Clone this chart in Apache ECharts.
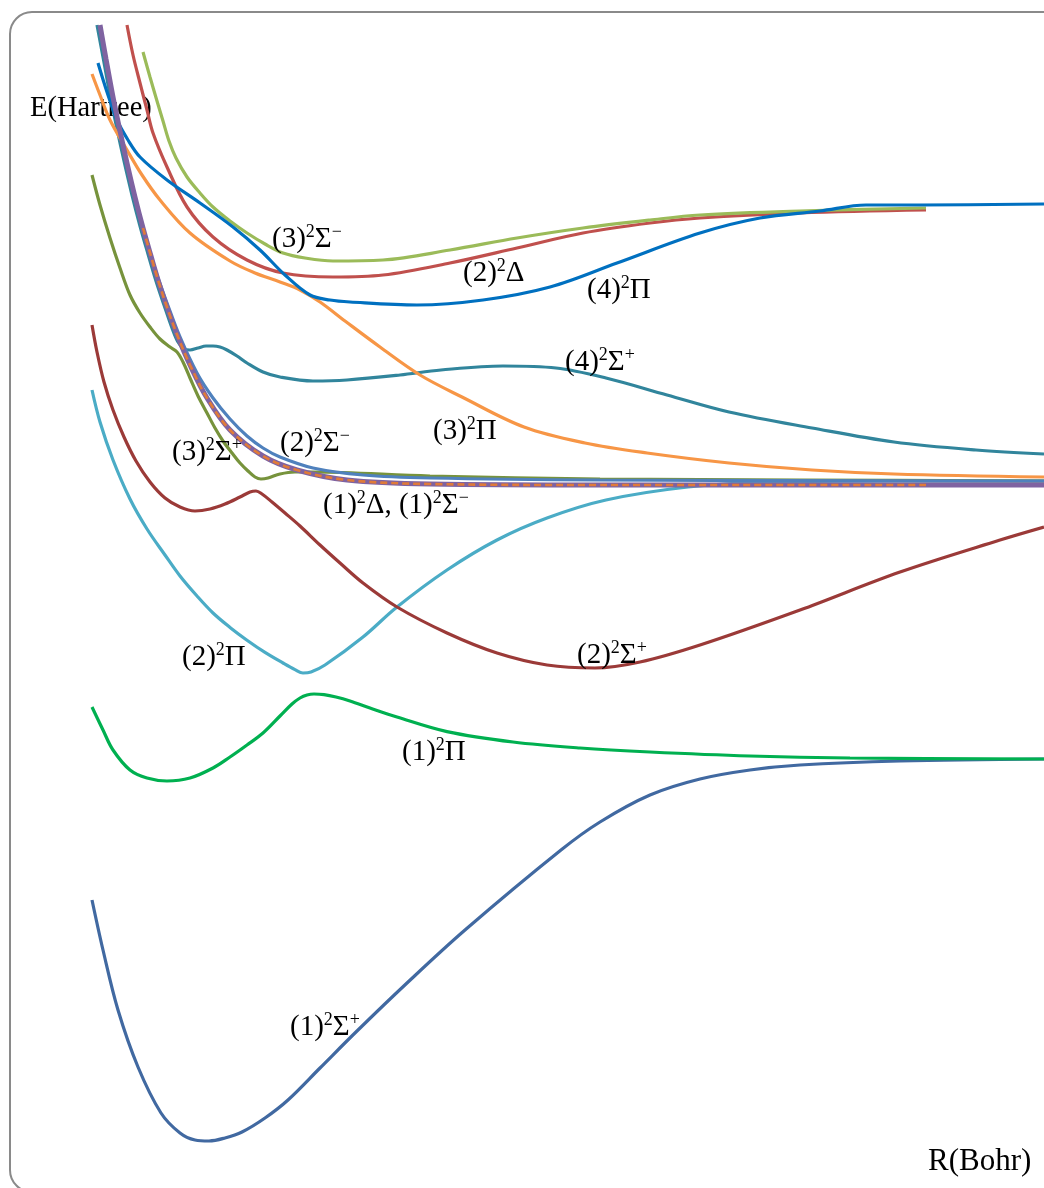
<!DOCTYPE html>
<html>
<head>
<meta charset="utf-8">
<script src="https://cdn.jsdelivr.net/npm/echarts@6/dist/echarts.min.js"></script>
<style>
  html, body { margin: 0; padding: 0; background: #fff; overflow: hidden; }
  #chart { width: 1044px; height: 1188px; }
</style>
</head>
<body>
<div id="chart"></div>
<script>
// Potential energy curves: internuclear distance R (bohr) vs energy E (hartree)

const sigma1Plus = [[1.84,-0.4500],[2.06,-0.4750],[2.36,-0.5050],[2.76,-0.5335],[3.22,-0.5565],[3.60,-0.5665],[3.90,-0.5700],[4.18,-0.5705],[4.50,-0.5690],[4.84,-0.5660],[5.30,-0.5590],[5.76,-0.5500],[6.40,-0.5340],[7.14,-0.5155],[8.14,-0.4915],[9.30,-0.4650],[11.22,-0.4250],[12.00,-0.4110],[13.00,-0.3975],[14.00,-0.3895],[15.00,-0.3850],[16.00,-0.3825],[18.00,-0.3805],[20.88,-0.3795]];

const pi1 = [[1.84,-0.3535],[2.06,-0.3650],[2.26,-0.3750],[2.60,-0.3850],[2.94,-0.3890],[3.34,-0.3905],[3.80,-0.3890],[4.26,-0.3840],[4.60,-0.3785],[4.94,-0.3725],[5.26,-0.3665],[5.60,-0.3580],[5.84,-0.3520],[6.00,-0.3490],[6.14,-0.3475],[6.28,-0.3470],[6.48,-0.3473],[6.72,-0.3485],[7.00,-0.3505],[7.40,-0.3540],[7.94,-0.3585],[8.94,-0.3658],[10.26,-0.3710],[11.60,-0.3740],[13.00,-0.3760],[15.00,-0.3780],[17.00,-0.3790],[20.88,-0.3795]];

const pi2 = [[1.84,-0.1950],[2.00,-0.2110],[2.26,-0.2300],[2.60,-0.2495],[2.94,-0.2645],[3.30,-0.2775],[3.60,-0.2880],[3.94,-0.2980],[4.26,-0.3065],[4.60,-0.3137],[4.94,-0.3201],[5.30,-0.3262],[5.66,-0.3315],[5.90,-0.3348],[6.06,-0.3365],[6.22,-0.3360],[6.50,-0.3325],[7.26,-0.3185],[7.94,-0.3035],[8.94,-0.2850],[9.94,-0.2700],[10.94,-0.2590],[12.12,-0.2500],[13.76,-0.2435],[15.40,-0.2410],[18.00,-0.2405],[20.88,-0.2405]];

const sigma2Plus = [[1.84,-0.1625],[1.94,-0.1760],[2.08,-0.1910],[2.26,-0.2050],[2.48,-0.2185],[2.72,-0.2305],[3.00,-0.2410],[3.30,-0.2490],[3.60,-0.2535],[3.90,-0.2555],[4.20,-0.2545],[4.50,-0.2520],[4.80,-0.2485],[5.00,-0.2460],[5.12,-0.2455],[5.24,-0.2470],[5.44,-0.2510],[5.70,-0.2565],[6.00,-0.2630],[6.40,-0.2725],[6.80,-0.2815],[7.26,-0.2915],[7.94,-0.3035],[8.94,-0.3165],[9.94,-0.3265],[10.94,-0.3325],[11.90,-0.3340],[12.80,-0.3310],[14.00,-0.3225],[16.00,-0.3050],[18.00,-0.2860],[20.00,-0.2700],[20.88,-0.2635]];

const sigma3Plus = [[1.84,-0.0875],[2.00,-0.1025],[2.20,-0.1190],[2.40,-0.1340],[2.60,-0.1475],[2.80,-0.1565],[3.00,-0.1635],[3.20,-0.1695],[3.40,-0.1735],[3.54,-0.1760],[3.66,-0.1810],[3.80,-0.1890],[3.96,-0.1980],[4.14,-0.2065],[4.30,-0.2140],[4.46,-0.2205],[4.64,-0.2265],[4.80,-0.2315],[4.96,-0.2355],[5.10,-0.2385],[5.22,-0.2395],[5.36,-0.2390],[5.60,-0.2370],[5.90,-0.2360],[6.26,-0.2360],[8.60,-0.2380],[12.00,-0.2395],[16.00,-0.2400],[20.88,-0.2405]];

const sigma4Plus = [[1.94,-0.0125],[2.06,-0.0285],[2.20,-0.0475],[2.34,-0.0645],[2.48,-0.0805],[2.64,-0.0975],[2.80,-0.1130],[2.96,-0.1270],[3.12,-0.1405],[3.28,-0.1525],[3.44,-0.1640],[3.56,-0.1710],[3.68,-0.1745],[3.80,-0.1750],[3.96,-0.1740],[4.12,-0.1730],[4.26,-0.1730],[4.40,-0.1735],[4.54,-0.1750],[4.74,-0.1780],[4.94,-0.1815],[5.26,-0.1860],[5.60,-0.1885],[6.26,-0.1905],[6.94,-0.1900],[8.00,-0.1875],[8.82,-0.1850],[10.06,-0.1830],[11.12,-0.1840],[12.12,-0.1890],[13.34,-0.1975],[14.58,-0.2060],[16.24,-0.2140],[17.88,-0.2210],[19.52,-0.2250],[20.88,-0.2270]];

const pi3 = [[1.84,-0.0370],[2.00,-0.0475],[2.20,-0.0600],[2.54,-0.0750],[2.84,-0.0875],[3.20,-0.1000],[3.80,-0.1165],[4.60,-0.1305],[5.10,-0.1365],[5.60,-0.1410],[6.00,-0.1450],[6.40,-0.1510],[6.90,-0.1605],[7.60,-0.1735],[8.40,-0.1875],[9.24,-0.1985],[10.48,-0.2135],[11.70,-0.2215],[12.94,-0.2265],[14.58,-0.2315],[16.24,-0.2350],[17.88,-0.2370],[20.88,-0.2385]];

const pi4 = [[1.96,-0.0315],[2.14,-0.0460],[2.34,-0.0600],[2.56,-0.0700],[2.80,-0.0785],[3.34,-0.0900],[4.00,-0.1015],[4.66,-0.1135],[5.20,-0.1250],[5.70,-0.1375],[6.20,-0.1475],[6.60,-0.1500],[7.00,-0.1510],[8.34,-0.1525],[9.66,-0.1500],[11.00,-0.1435],[12.34,-0.1315],[14.00,-0.1165],[15.20,-0.1090],[16.40,-0.1055],[17.32,-0.1025],[18.40,-0.1025],[20.88,-0.1020]];

const delta2 = [[2.54,-0.0125],[2.66,-0.0275],[2.80,-0.0415],[2.94,-0.0550],[3.06,-0.0665],[3.34,-0.0835],[3.74,-0.1035],[4.26,-0.1185],[4.94,-0.1300],[5.66,-0.1365],[6.66,-0.1385],[7.66,-0.1375],[9.00,-0.1315],[10.34,-0.1240],[11.66,-0.1165],[13.00,-0.1115],[14.00,-0.1090],[16.00,-0.1065],[18.52,-0.1050]];

const sigma3Minus = [[2.86,-0.0260],[3.00,-0.0385],[3.14,-0.0505],[3.26,-0.0605],[3.38,-0.0705],[3.52,-0.0790],[3.74,-0.0885],[4.00,-0.0965],[4.26,-0.1035],[4.60,-0.1105],[4.94,-0.1165],[5.30,-0.1220],[5.66,-0.1265],[6.10,-0.1290],[6.66,-0.1305],[7.66,-0.1300],[9.00,-0.1250],[10.34,-0.1190],[11.66,-0.1140],[13.00,-0.1100],[14.00,-0.1075],[16.00,-0.1055],[18.52,-0.1040]];

const sigma2Minus = [[2.84,-0.1140],[3.00,-0.1270],[3.16,-0.1390],[3.34,-0.1515],[3.60,-0.1685],[3.94,-0.1865],[4.26,-0.1990],[4.60,-0.2095],[4.94,-0.2180],[5.26,-0.2240],[5.60,-0.2285],[6.26,-0.2340],[7.26,-0.2375],[8.60,-0.2390],[12.00,-0.2400],[20.88,-0.2405]];

const delta1 = [[2.00,-0.0125],[2.12,-0.0295],[2.26,-0.0485],[2.40,-0.0655],[2.54,-0.0815],[2.70,-0.0985],[2.86,-0.1140],[3.02,-0.1280],[3.18,-0.1415],[3.36,-0.1550],[3.56,-0.1685],[3.80,-0.1825],[4.14,-0.1990],[4.60,-0.2150],[5.26,-0.2280],[5.94,-0.2350],[6.94,-0.2400],[8.60,-0.2420],[12.00,-0.2425],[20.88,-0.2425]];

const sigma1Minus = [[2.86,-0.1140],[3.02,-0.1280],[3.18,-0.1415],[3.36,-0.1550],[3.56,-0.1685],[3.80,-0.1825],[4.14,-0.1990],[4.60,-0.2150],[5.26,-0.2280],[5.94,-0.2350],[6.94,-0.2400],[8.60,-0.2420],[12.00,-0.2425],[18.52,-0.2425]];

// State labels ("^" marks the next character as a superscript) and where they sit (R, E)
const stateLabels = ['(3)^2Σ^−', '(2)^2Δ', '(4)^2Π', '(4)^2Σ^+', '(3)^2Π', '(3)^2Σ^+', '(2)^2Σ^−', '(1)^2Δ, (1)^2Σ^−', '(2)^2Π', '(2)^2Σ^+', '(1)^2Π', '(1)^2Σ^+'];
const stateLabelAnchors = [[5.44,-0.1195],[9.26,-0.1365],[11.74,-0.1450],[11.30,-0.1810],[8.66,-0.2155],[3.44,-0.2260],[5.60,-0.2215],[6.46,-0.2525],[3.64,-0.3285],[11.54,-0.3275],[8.04,-0.3760],[5.80,-0.5135]];

const SERIF = '"Liberation Serif", "Times New Roman", serif';

const curves = [
  { name: '(1)2Σ+', data: sigma1Plus,  color: '#4169a1', width: 3.2 },
  { name: '(1)2Π',  data: pi1,         color: '#00b050', width: 3.2 },
  { name: '(2)2Π',  data: pi2,         color: '#4bacc6', width: 3.2 },
  { name: '(2)2Σ+', data: sigma2Plus,  color: '#9b3a38', width: 3.2 },
  { name: '(3)2Σ+', data: sigma3Plus,  color: '#77933c', width: 3.2 },
  { name: '(4)2Σ+', data: sigma4Plus,  color: '#31859c', width: 3.2 },
  { name: '(3)2Π',  data: pi3,         color: '#f79646', width: 3.2 },
  { name: '(2)2Δ',  data: delta2,      color: '#c0504d', width: 3.2 },
  { name: '(3)2Σ-', data: sigma3Minus, color: '#9bbb59', width: 3.2 },
  { name: '(4)2Π',  data: pi4,         color: '#0070c0', width: 3.2 },
  { name: '(2)2Σ-', data: sigma2Minus, color: '#4f81bd', width: 3.2 },
  { name: '(1)2Δ',  data: delta1,      color: '#7f63a1', width: 5 },
  { name: '(1)2Σ-', data: sigma1Minus, color: '#e07b39', width: 2.6, dash: [7, 4] }
];

function toRich(s) {
  let out = '', run = '';
  for (let i = 0; i < s.length; i++) {
    if (s[i] === '^') {
      if (run) { out += '{m|' + run + '}'; run = ''; }
      out += '{s|' + s[i + 1] + '}';
      i++;
    } else {
      run += s[i];
    }
  }
  if (run) out += '{m|' + run + '}';
  return out;
}

const chart = echarts.init(document.getElementById('chart'), null, { renderer: 'canvas' });

const series = curves.map((c, i) => ({
  type: 'line',
  name: c.name,
  data: c.data,
  showSymbol: false,
  smooth: 0.35,
  clip: true,
  z: 2 + i * 0.01,
  lineStyle: { color: c.color, width: c.width, type: c.dash || 'solid', cap: 'butt' },
  emphasis: { disabled: true }
}));

series.push({
  type: 'scatter',
  name: 'labels',
  symbolSize: 0,
  silent: true,
  z: 10,
  itemStyle: { opacity: 1 },
  data: stateLabelAnchors.map((p, i) => ({ value: p, name: stateLabels[i] })),
  label: {
    show: true,
    position: 'right',
    distance: 0,
    color: '#000',
    opacity: 1,
    formatter: p => toRich(p.name),
    rich: {
      m: { fontFamily: SERIF, fontSize: 29, lineHeight: 31, color: '#000' },
      s: { fontFamily: SERIF, fontSize: 18, lineHeight: 18, color: '#000', verticalAlign: 'top' }
    }
  }
});

chart.setOption({
  backgroundColor: '#ffffff',
  animation: false,
  grid: { left: 0, right: 0, top: 25, bottom: 13, containLabel: false },
  xAxis: { type: 'value', min: 0, max: 20.88, show: false },
  yAxis: { type: 'value', min: -0.5875, max: -0.0125, show: false },
  graphic: [
    {
      type: 'rect', z: 0, silent: true,
      shape: { x: 10, y: 12, width: 1100, height: 1180, r: 22 },
      style: { fill: 'none', stroke: '#8a8a8a', lineWidth: 2 }
    },
    {
      type: 'text', z: 1, silent: true, x: 30, y: 109,
      style: { text: 'E(Hartree)', font: '28.5px ' + SERIF, fill: '#000', align: 'left', verticalAlign: 'middle' }
    },
    {
      type: 'text', z: 1, silent: true, x: 928, y: 1162,
      style: { text: 'R(Bohr)', font: '31px ' + SERIF, fill: '#000', align: 'left', verticalAlign: 'middle' }
    }
  ],
  series: series
});
</script>
</body>
</html>
